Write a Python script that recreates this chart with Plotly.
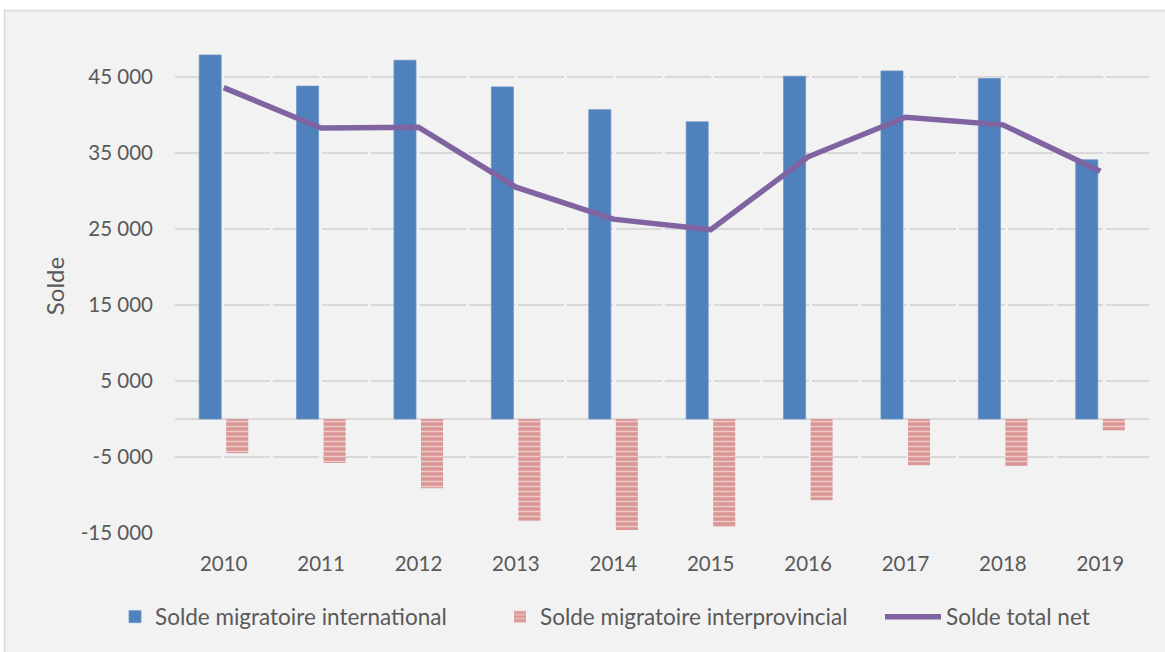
import plotly.graph_objects as go

years = ["2010", "2011", "2012", "2013", "2014", "2015", "2016", "2017", "2018", "2019"]
international = [47900, 43800, 47200, 43700, 40700, 39100, 45100, 45800, 44800, 34100]
interprovincial = [-4500, -5800, -9100, -13400, -14600, -14200, -10700, -6100, -6200, -1500]
total_net = [43600, 38300, 38400, 30500, 26300, 24900, 34500, 39700, 38700, 32600]

tick_vals = [-15000, -5000, 5000, 15000, 25000, 35000, 45000]
tick_text = ["-15 000", "-5 000", "5 000", "15 000", "25 000", "35 000", "45 000"]

FONT = "Lato, 'Open Sans', sans-serif"
TXT = "#595959"

fig = go.Figure()
fig.add_trace(go.Bar(
    x=years, y=international, name="Solde migratoire international",
    marker=dict(color="#4F81BD", line=dict(color="#6C94C8", width=0.8)),
    legend="legend",
))
fig.add_trace(go.Bar(
    x=years, y=interprovincial, name="Solde migratoire interprovincial",
    marker=dict(color="#D99694", line=dict(width=0),
                pattern=dict(shape="-", fgcolor="white", fillmode="overlay",
                             size=5, solidity=0.3)),
    legend="legend2",
))
fig.add_trace(go.Scatter(
    x=years, y=total_net, name="Solde total net", mode="lines",
    line=dict(color="#8064A2", width=5.5, shape="linear"),
    legend="legend3",
))

W, H = 1165, 652
L, R, T, B = 175, 16, 39, 119
pw, ph = W - L - R, H - T - B

def px_x(x):
    return (x - L) / pw

def px_y(y):
    return (H - B - y) / ph

fig.add_shape(type="rect", xref="paper", yref="paper",
              x0=px_x(4.5), x1=px_x(1200), y0=px_y(700), y1=px_y(10.5),
              fillcolor="#F2F2F2", line=dict(color="#D9D9D9", width=1.5),
              layer="below")

leg_common = dict(orientation="h", xref="container", yref="container",
                  yanchor="middle", xanchor="left", bgcolor="rgba(0,0,0,0)",
                  font=dict(family=FONT, size=22.5, color=TXT))

fig.update_layout(
    width=W, height=H,
    margin=dict(l=L, r=R, t=T, b=B),
    paper_bgcolor="white", plot_bgcolor="rgba(0,0,0,0)",
    showlegend=True,
    barmode="group", bargap=0.445, bargroupgap=0.185,
    font=dict(family=FONT, size=20, color=TXT),
    legend=dict(x=115 / W, y=1 - 617 / H, **leg_common),
    legend2=dict(x=500 / W, y=1 - 617 / H, **leg_common),
    legend3=dict(x=880 / W, y=1 - 617 / H, itemwidth=56, **leg_common),
    xaxis=dict(showgrid=False, showline=False, ticks="", ticklabelstandoff=16,
               tickfont=dict(family=FONT, size=20.5, color=TXT)),
    yaxis=dict(range=[-15000, 50000], tickvals=tick_vals, ticktext=tick_text,
               showgrid=True, gridcolor="#D9D9D9", gridwidth=1.5,
               griddash="46px,3px",
               zeroline=True, zerolinecolor="#D9D9D9", zerolinewidth=1.5,
               showline=False, ticks="", ticklabelstandoff=21,
               tickfont=dict(family=FONT, size=20.5, color=TXT),
               title=dict(text="Solde", standoff=9,
                          font=dict(family=FONT, size=24, color=TXT))),
)

fig.write_html("out.html", config={"displayModeBar": False},
               post_script="document.body.style.margin='0';")
